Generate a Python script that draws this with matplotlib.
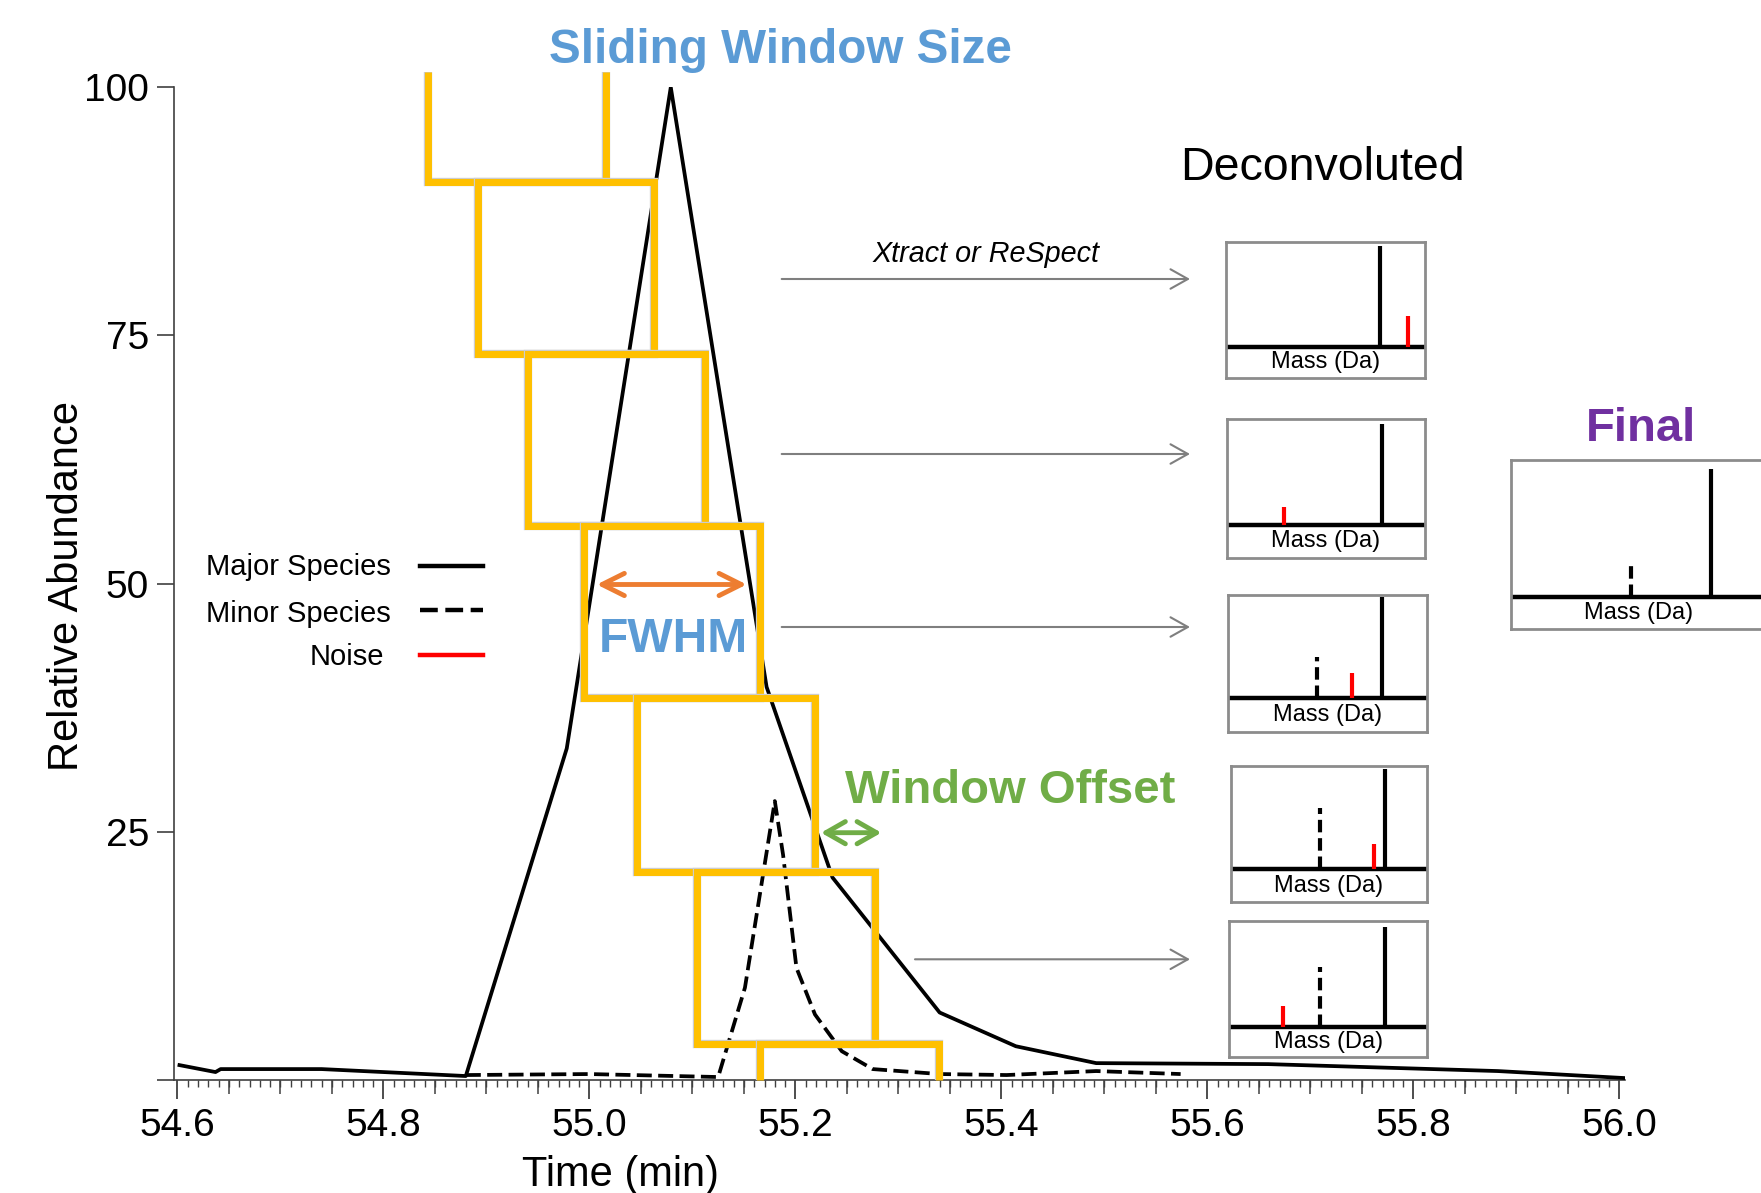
import matplotlib
matplotlib.use('Agg')
import matplotlib.pyplot as plt
import matplotlib.patheffects as pe
from matplotlib.lines import Line2D
from matplotlib.patches import Polygon
from matplotlib.ticker import MultipleLocator

plt.rcParams['font.family'] = ['Liberation Sans', 'DejaVu Sans']

W, H = 1761, 1193

# chromatogram traces (time in min, relative abundance)
major_time = [54.602, 54.637, 54.642, 54.740, 54.880, 54.978, 55.079, 55.172,
              55.236, 55.340, 55.414, 55.492, 55.659, 55.882, 56.004]
major_abund = [1.5, 0.8, 1.1, 1.1, 0.4, 33.4, 100.0, 39.6,
               20.4, 6.8, 3.4, 1.7, 1.6, 0.9, 0.2]

minor_time = [54.880, 55.000, 55.125, 55.151, 55.180, 55.188, 55.201,
              55.219, 55.245, 55.275, 55.340, 55.405, 55.492, 55.574]
minor_abund = [0.5, 0.6, 0.3, 9.3, 28.1, 22.7, 11.3,
               6.6, 2.9, 1.1, 0.6, 0.5, 0.9, 0.6]

# sliding windows
win_start = [54.843, 54.892, 54.940, 54.995, 55.046, 55.104, 55.166]
win_end = [55.016, 55.063, 55.112, 55.166, 55.219, 55.277, 55.339]
win_top = [101.5, 90.5, 73.1, 55.8, 38.5, 21.0, 3.65]
win_bottom = [90.5, 73.1, 55.8, 38.5, 21.0, 3.65, 0.0]

x_ticks = [54.6, 54.8, 55.0, 55.2, 55.4, 55.6, 55.8, 56.0]
x_labels = ['54.6', '54.8', '55.0', '55.2', '55.4', '55.6', '55.8', '56.0']
y_ticks = [0, 25, 50, 75, 100]
y_labels = ['', '25', '50', '75', '100']

# deconvoluted spectra (positions / heights in panel units)
spec_base = [0.228, 0.236, 0.250, 0.242, 0.221]
spec_major_pos = [0.775, 0.784, 0.776, 0.785, 0.786]
spec_major_top = [0.968, 0.966, 0.988, 0.976, 0.958]
spec_minor_pos = [None, None, 0.446, 0.454, 0.459]
spec_minor_top = [None, None, 0.544, 0.690, 0.663]
spec_noise_pos = [0.916, 0.286, 0.625, 0.730, 0.273]
spec_noise_top = [0.454, 0.368, 0.432, 0.428, 0.374]

final_base = 0.193
final_major_pos, final_major_top = 0.784, 0.945
final_minor_pos, final_minor_top = 0.469, 0.390


def fig_xy(x, y):
    return x / W, 1 - y / H


def box(l, t, r, b):
    return [l / W, 1 - b / H, (r - l) / W, (b - t) / H]


fig = plt.figure(figsize=(W / 100, H / 100), dpi=100)
ax = fig.add_axes(box(174, 87.3, 1625, 1080))

dash = (0, (4, 1.7))
ax.plot(major_time, major_abund, color='black', lw=2.7, zorder=3)
ax.plot(minor_time, minor_abund, color='black', lw=2.7, ls=dash, zorder=3)

outline = [pe.Stroke(linewidth=6.0, foreground='#cccccc'), pe.Normal()]
n = len(win_start)
for i in range(n):
    x0, x1, y0, y1 = win_start[i], win_end[i], win_bottom[i], win_top[i]
    if i == 0:
        pts, closed = [(x0, y1), (x0, y0), (x1, y0), (x1, y1)], False
    elif i == n - 1:
        pts, closed = [(x0, y0), (x0, y1), (x1, y1), (x1, y0)], False
    else:
        pts, closed = [(x0, y0), (x0, y1), (x1, y1), (x1, y0)], True
    ax.add_patch(Polygon(pts, closed=closed, fill=False, edgecolor='#FFC000',
                         lw=5, joinstyle='miter', capstyle='butt',
                         clip_on=False, zorder=4, path_effects=outline))

ax.set_xlim(54.5967, 56.0054)
ax.set_ylim(0, 100)
for s in ['top', 'right']:
    ax.spines[s].set_visible(False)
for s in ['left', 'bottom']:
    ax.spines[s].set_color('#404040')
    ax.spines[s].set_linewidth(1.2)

ax.set_xticks(x_ticks)
ax.set_xticklabels(x_labels)
ax.set_yticks(y_ticks)
ax.set_yticklabels(y_labels)
ax.xaxis.set_minor_locator(MultipleLocator(0.01))
ax.tick_params(axis='x', which='major', length=14, width=1.3, color='#404040',
               labelsize=28, pad=6)
ax.tick_params(axis='x', which='minor', length=5, width=1.0, color='#404040')
ax.tick_params(axis='y', which='major', length=12, width=1.2, color='#404040',
               labelsize=28, pad=6)

medium = [round(54.6 + 0.05 * i, 2) for i in range(29) if i % 4]
sec = ax.secondary_xaxis('bottom')
sec.set_xticks(medium)
sec.tick_params(length=10, width=1.1, color='#404040', labelbottom=False)
sec.spines['bottom'].set_visible(False)

fig.text(*fig_xy(621, 1186), 'Time (min)', fontsize=30, ha='center', va='baseline')
fig.text(*fig_xy(67.4, 586), 'Relative Abundance', fontsize=30, rotation=90,
         ha='center', va='center')

# annotations
fig.text(*fig_xy(780.5, 63), 'Sliding Window Size', fontsize=34.3, fontweight='bold',
         color='#5B9BD5', ha='center', va='baseline')
fig.text(*fig_xy(673.8, 651.5), 'FWHM', fontsize=34.5, fontweight='bold',
         color='#5B9BD5', ha='center', va='baseline')
fig.text(*fig_xy(1010.3, 802.7), 'Window Offset', fontsize=34, fontweight='bold',
         color='#70AD47', ha='center', va='baseline')
fig.text(*fig_xy(1640.8, 441), 'Final', fontsize=34, fontweight='bold',
         color='#7030A0', ha='center', va='baseline')
fig.text(*fig_xy(1322.5, 180), 'Deconvoluted', fontsize=33.5,
         ha='center', va='baseline')
fig.text(*fig_xy(985.8, 261.7), 'Xtract or ReSpect', fontsize=20.7, style='italic',
         ha='center', va='baseline')

ax.annotate('', xy=fig_xy(746.7, 584.5), xytext=fig_xy(596.7, 584.5),
            xycoords='figure fraction', textcoords='figure fraction',
            arrowprops=dict(arrowstyle='<->,head_length=1.6,head_width=0.8',
                            color='#ED7D31', lw=3.5, shrinkA=0, shrinkB=0))
ax.annotate('', xy=fig_xy(881.4, 832.7), xytext=fig_xy(821, 832.7),
            xycoords='figure fraction', textcoords='figure fraction',
            arrowprops=dict(arrowstyle='<->,head_length=1.4,head_width=0.8',
                            color='#70AD47', lw=3.5, shrinkA=0, shrinkB=0))

for x0, y in [(781.7, 279), (781.7, 454), (781.7, 627), (915, 959.3)]:
    ax.annotate('', xy=fig_xy(1190, y), xytext=fig_xy(x0, y),
                xycoords='figure fraction', textcoords='figure fraction',
                arrowprops=dict(arrowstyle='->,head_length=1.25,head_width=0.7',
                                color='#7f7f7f', lw=1.5, shrinkA=0, shrinkB=0))

# legend
leg_rows = [('Major Species', 391, 575, 565.7, 'black', '-'),
            ('Minor Species', 391, 621.7, 610, 'black', dash),
            ('Noise', 384.4, 665, 655, '#FF0000', '-')]
for label, tx, ty, ly, col, ls in leg_rows:
    fig.text(*fig_xy(tx, ty), label, fontsize=21, ha='right', va='baseline')
    (ax0, ay), (ax1, _) = fig_xy(420, ly), fig_xy(482.6, ly)
    fig.add_artist(Line2D([ax0, ax1], [ay, ay], transform=fig.transFigure,
                          color=col, lw=3.2, ls=ls))


def spectrum(rect, base, major, minor, noise):
    a = fig.add_axes(rect)
    a.set_xlim(0, 1)
    a.set_ylim(0, 1)
    a.set_xticks([])
    a.set_yticks([])
    for s in a.spines.values():
        s.set_color('#8c8c8c')
        s.set_linewidth(2)
    a.axhline(base, color='black', lw=3.2, xmin=0.01, xmax=0.99)
    a.vlines(major[0], base, major[1], color='black', lw=3)
    if minor is not None:
        a.vlines(minor[0], base, minor[1], color='black', lw=3, linestyles=[(0, (3, 1.4))])
    if noise is not None:
        a.vlines(noise[0], base, noise[1], color='#FF0000', lw=3)
    a.text(0.5, base / 2, 'Mass (Da)', fontsize=17, ha='center', va='center')
    return a


spec_boxes = [(1226, 241.7, 1424.7, 377.7), (1227, 419.3, 1425, 557.7),
              (1228.3, 595, 1426.7, 731.7), (1230.7, 766, 1427.3, 902.3),
              (1229.3, 921, 1427.3, 1056.7)]
for i, b in enumerate(spec_boxes):
    minor = None
    if spec_minor_pos[i] is not None:
        minor = (spec_minor_pos[i], spec_minor_top[i])
    spectrum(box(*b), spec_base[i], (spec_major_pos[i], spec_major_top[i]),
             minor, (spec_noise_pos[i], spec_noise_top[i]))

spectrum(box(1511, 460, 1766, 629.3), final_base, (final_major_pos, final_major_top),
         (final_minor_pos, final_minor_top), None)

fig.savefig('out.png', dpi=100)
